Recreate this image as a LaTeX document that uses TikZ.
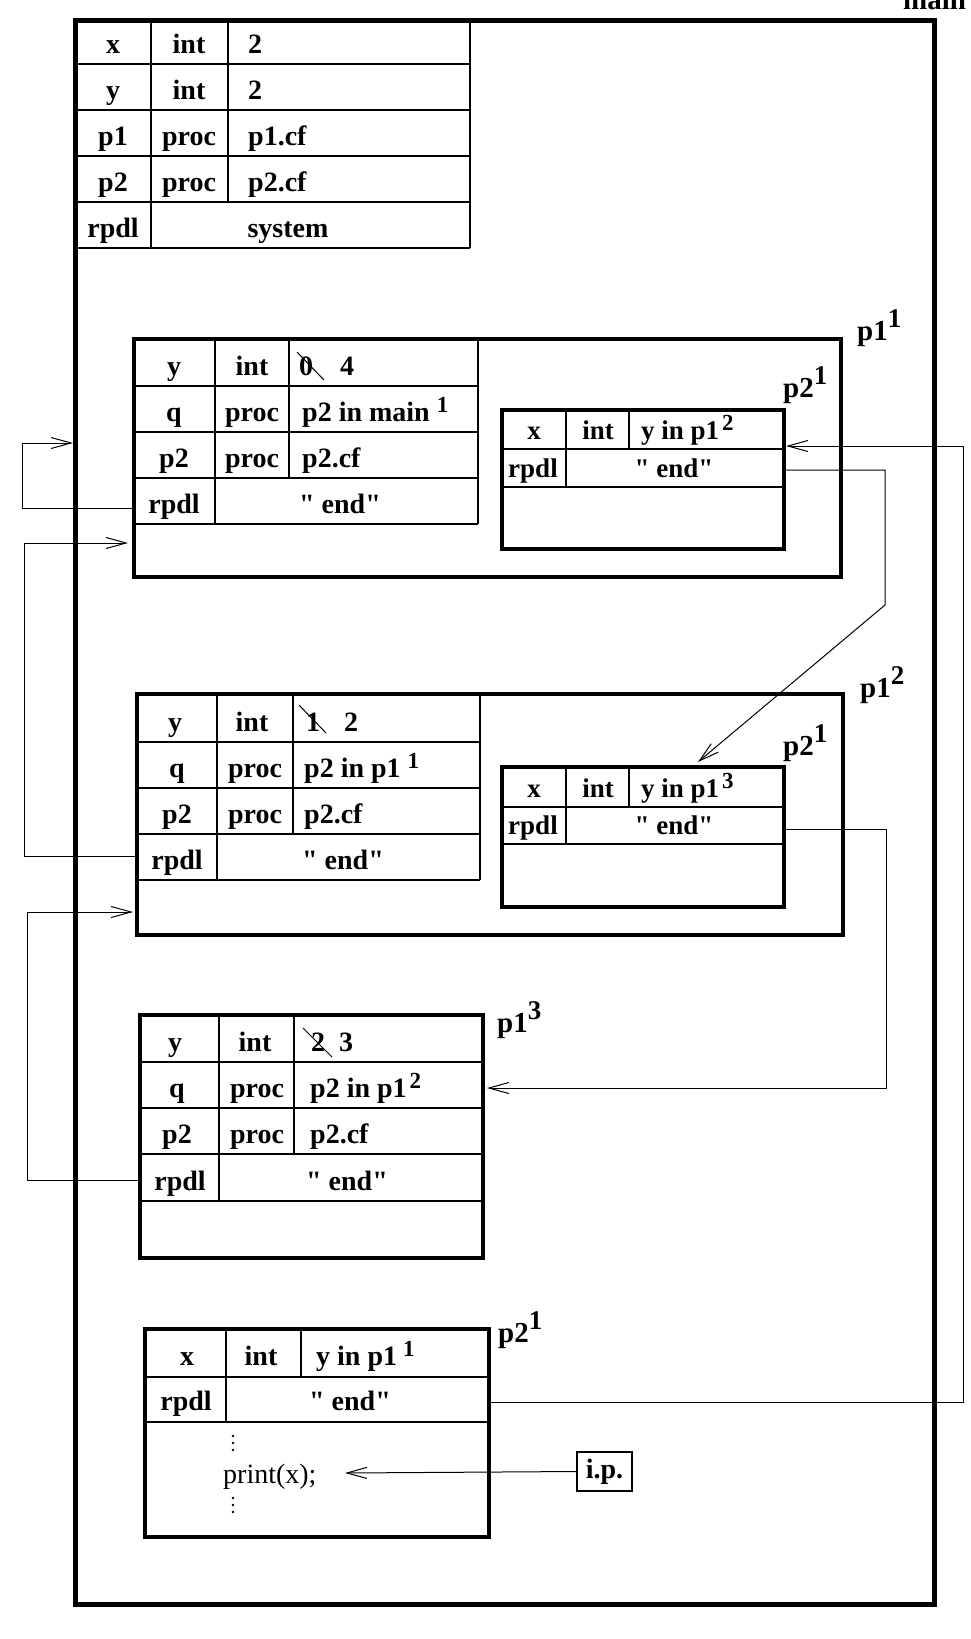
\documentclass[tikz,border=0pt]{standalone}
\usepackage{fontspec}
\setmainfont{Liberation Serif}
\usetikzlibrary{arrows.meta}
\newcommand\mysup[2][4pt]{\hspace{#1}\raisebox{9pt}{\fontsize{23}{23}\selectfont #2}}
\newcommand\labsup[1]{\raisebox{13pt}{\fontsize{27}{27}\selectfont #1}}
\newcommand\qend{\textquotedbl{} end\textquotedbl}
\begin{document}
\begin{tikzpicture}[x=1pt,y=-1pt,
  mainbox/.style={line width=5pt},
  thickbox/.style={line width=4.5pt},
  cell/.style={line width=1.2pt},
  conn/.style={line width=1pt},
  arr/.style={conn,-{Straight Barb[length=20pt,width=11pt,line width=1pt]}},
  txt/.style={font=\fontsize{28}{30}\selectfont\bfseries, inner sep=0pt, anchor=base},
  ltxt/.style={txt, anchor=base west},
  itxt/.style={font=\fontsize{27}{29}\selectfont\bfseries, inner sep=0pt, anchor=base},
  iltxt/.style={itxt, anchor=base west},
  lab/.style={font=\fontsize{29}{31}\selectfont\bfseries, inner sep=0pt, anchor=base west},
  strike/.style={line width=1pt}]
\useasboundingbox (0,0) rectangle (971,1639);

% ---------------- main frame
\draw[mainbox] (75,20) rectangle (934,1604);
\node[lab] (mainlab) at (903,9) {main};

% ---------------- top table (main)
\draw[cell] (75,64) -- (470,64) (75,110) -- (470,110) (75,156) -- (470,156)
  (75,202) -- (470,202) (75,248) -- (470,248) (470,20) -- (470,248)
  (151,20) -- (151,248) (228,20) -- (228,202);
\node[txt] (m1a) at (113,53) {x};
\node[txt] (m1b) at (189,53) {int};
\node[ltxt] (m1c) at (248,53) {2};
\node[txt] (m2a) at (113,99) {y};
\node[txt] (m2b) at (189,99) {int};
\node[ltxt] (m2c) at (248,99) {2};
\node[txt] (m3a) at (113,145) {p1};
\node[txt] (m3b) at (189,145) {proc};
\node[ltxt] (m3c) at (248,145) {p1.cf};
\node[txt] (m4a) at (113,191) {p2};
\node[txt] (m4b) at (189,191) {proc};
\node[ltxt] (m4c) at (248,191) {p2.cf};
\node[txt] (m5a) at (113,237) {rpdl};
\node[txt] (m5b) at (288,237) {system};

% ---------------- p1^1
\draw[cell] (134,386) -- (478,386) (134,432) -- (478,432) (134,478) -- (478,478)
  (134,524) -- (478,524) (478,339) -- (478,524) (215,339) -- (215,524) (289,339) -- (289,478);
\draw[thickbox] (134,339) rectangle (841,577);
\node[lab] (labA) at (857,340) {p1\labsup{1}};
\node[txt] (a1a) at (174,375) {y};
\node[txt] (a1b) at (252,375) {int};
\node[ltxt] (a1c) at (299,375) {0};
\draw[strike] (297,352) -- (324,380);
\node[ltxt] (a1d) at (340,375) {4};
\node[txt] (a2a) at (174,421) {q};
\node[txt] (a2b) at (252,421) {proc};
\node[ltxt] (a2c) at (302,421) {p2 in main\mysup[7pt]{1}};
\node[txt] (a3a) at (174,467) {p2};
\node[txt] (a3b) at (252,467) {proc};
\node[ltxt] (a3c) at (302,467) {p2.cf};
\node[txt] (a4a) at (174,513) {rpdl};
\node[txt] (a4b) at (340,513) {\qend};

% p2^1 inside p1^1
\draw[cell] (502,449) -- (784,449) (502,487) -- (784,487) (566,410) -- (566,487) (629,410) -- (629,449);
\draw[thickbox] (502,410) rectangle (784,549);
\node[lab] (labB) at (783,397) {p2\labsup{1}};
\node[itxt] (b1a) at (534,439) {x};
\node[itxt] (b1b) at (598,439) {int};
\node[iltxt] (b1c) at (641,439) {y in p1\mysup[3pt]{2}};
\node[itxt] (b2a) at (533,477) {rpdl};
\node[itxt] (b2b) at (674,477) {\qend};

% ---------------- p1^2
\draw[cell] (137,742) -- (480,742) (137,788) -- (480,788) (137,834) -- (480,834)
  (137,880) -- (480,880) (480,694) -- (480,880) (217,694) -- (217,880) (293,694) -- (293,834);
\draw[thickbox] (137,694) rectangle (843,935);
\node[lab] (labC) at (860,697) {p1\labsup{2}};
\node[txt] (c1a) at (175,731) {y};
\node[txt] (c1b) at (252,731) {int};
\node[ltxt] (c1c) at (306,731) {1};
\draw[strike] (299,705) -- (326,733);
\node[ltxt] (c1d) at (344,731) {2};
\node[txt] (c2a) at (177,777) {q};
\node[txt] (c2b) at (255,777) {proc};
\node[ltxt] (c2c) at (304,777) {p2 in p1\mysup[7pt]{1}};
\node[txt] (c3a) at (177,823) {p2};
\node[txt] (c3b) at (255,823) {proc};
\node[ltxt] (c3c) at (304,823) {p2.cf};
\node[txt] (c4a) at (177,869) {rpdl};
\node[txt] (c4b) at (343,869) {\qend};

% p2^1 inside p1^2
\draw[cell] (502,807) -- (784,807) (502,844) -- (784,844) (566,767) -- (566,844) (629,767) -- (629,807);
\draw[thickbox] (502,767) rectangle (784,907);
\node[lab] (labD) at (783,755) {p2\labsup{1}};
\node[itxt] (d1a) at (534,797) {x};
\node[itxt] (d1b) at (598,797) {int};
\node[iltxt] (d1c) at (641,797) {y in p1\mysup[3pt]{3}};
\node[itxt] (d2a) at (533,834) {rpdl};
\node[itxt] (d2b) at (674,834) {\qend};

% ---------------- p1^3
\draw[cell] (140,1062) -- (483,1062) (140,1108) -- (483,1108) (140,1154) -- (483,1154)
  (140,1201) -- (483,1201) (219,1015) -- (219,1201) (294,1015) -- (294,1154);
\draw[thickbox] (140,1015) rectangle (483,1258);
\node[lab] (labE) at (497,1032) {p1\labsup{3}};
\node[txt] (e1a) at (175,1051) {y};
\node[txt] (e1b) at (255,1051) {int};
\node[ltxt] (e1c) at (311,1051) {2};
\draw[strike] (303,1028) -- (332,1057);
\node[ltxt] (e1d) at (339,1051) {3};
\node[txt] (e2a) at (177,1097) {q};
\node[txt] (e2b) at (257,1097) {proc};
\node[ltxt] (e2c) at (310,1097) {p2 in p1\mysup[3pt]{2}};
\node[txt] (e3a) at (177,1143) {p2};
\node[txt] (e3b) at (257,1143) {proc};
\node[ltxt] (e3c) at (310,1143) {p2.cf};
\node[txt] (e4a) at (180,1190) {rpdl};
\node[txt] (e4b) at (347,1190) {\qend};

% ---------------- bottom p2^1
\draw[cell] (145,1377) -- (489,1377) (145,1422) -- (489,1422) (226,1329) -- (226,1422) (301,1329) -- (301,1377);
\draw[thickbox] (145,1329) rectangle (489,1537);
\node[lab] (labF) at (498,1342) {p2\labsup{1}};
\node[txt] (f1a) at (187,1365) {x};
\node[txt] (f1b) at (261,1365) {int};
\node[ltxt] (f1c) at (316,1365) {y in p1\mysup[6pt]{1}};
\node[txt] (f2a) at (186,1410) {rpdl};
\node[txt] (f2b) at (350,1410) {\qend};
\foreach \yy in {1436,1443,1450,1498,1505,1512} \fill (233,\yy) circle (1.4pt);
\node[font=\fontsize{28}{30}\selectfont, inner sep=0pt, anchor=base west] (print) at (223,1483) {print(x);};
\node[draw, line width=1.4pt, font=\fontsize{28}{30}\selectfont\bfseries, inner sep=0pt,
  minimum width=55pt, minimum height=39pt] (ip) at (604.5,1471.5) {i.p.};

% ---------------- connector end points
\coordinate (aR) at (134,508);
\coordinate (mainIn) at (73,443);
\coordinate (cR) at (137,856);
\coordinate (aIn) at (128,543);
\coordinate (eR) at (140,1180);
\coordinate (cIn) at (133,912);
\coordinate (bR) at (784,470);
\coordinate (dTop) at (698,762);
\coordinate (dR) at (784,829);
\coordinate (eIn) at (487,1088);
\coordinate (fR) at (489,1402);
\coordinate (bIn) at (786,446);
\coordinate (printIn) at (345,1473);

% ---------------- connectors
\draw[arr] (aR) -- (22,508) |- (mainIn);
\draw[arr] (cR) -- (24,856) |- (aIn);
\draw[arr] (eR) -- (27,1180) |- (cIn);
\draw[arr] (bR) -- (885,470) -- (885,605) -- (dTop);
\draw[arr] (dR) -- (886,829) |- (eIn);
\draw[arr] (fR) -- (963,1402) |- (bIn);
\draw[arr] (ip.west) -- (printIn);
\end{tikzpicture}
\end{document}
